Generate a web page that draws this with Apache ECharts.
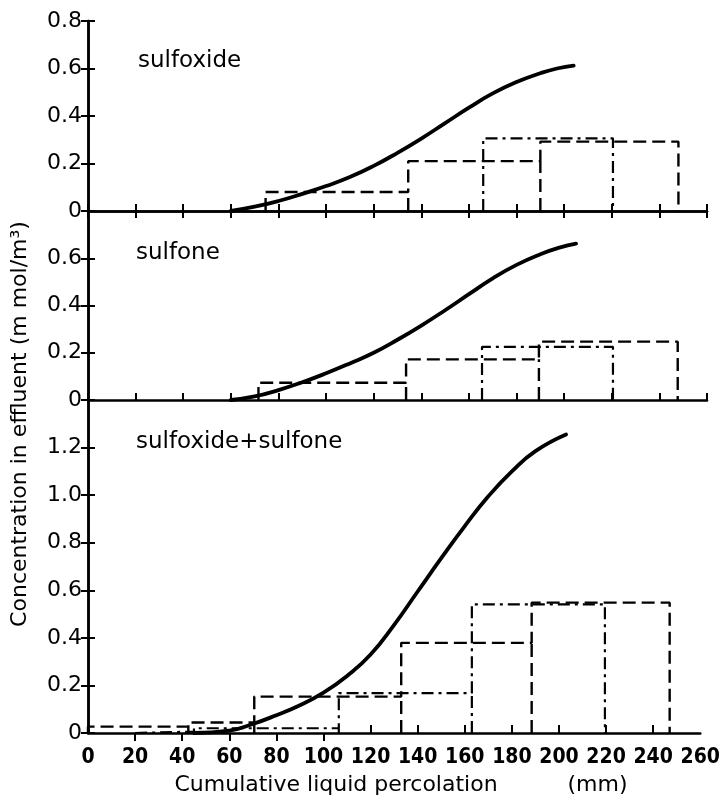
<!DOCTYPE html>
<html>
<head>
<meta charset="utf-8">
<script src="https://cdn.jsdelivr.net/npm/echarts@6/dist/echarts.min.js"></script>
<style>
html,body{margin:0;padding:0;background:#fff;}
#chart{width:723px;height:798px;}
</style>
</head>
<body>
<div id="chart"></div>
<script>
// ---------- data ----------
const xMin = 0, xMax = 260, xStep = 20;
const xTickValues = [0,20,40,60,80,100,120,140,160,180,200,220,240,260];
const panelNames = ['sulfoxide', 'sulfone', 'sulfoxide+sulfone'];
const panelYMax = [0.8, 0.8, 1.4];
const yStep = 0.2;

// smooth breakthrough curves (mm, mmol/m3)
const sulfoxideCurveX = [60, 70, 80, 90, 100, 110, 120, 130, 140, 150, 160, 170, 180, 190, 197, 204];
const sulfoxideCurveY = [0, 0.018, 0.042, 0.072, 0.105, 0.143, 0.19, 0.245, 0.305, 0.37, 0.435, 0.495, 0.543, 0.58, 0.6, 0.612];
const sulfoneCurveX = [60, 70, 80, 90, 100, 110, 120, 130, 140, 150, 160, 170, 180, 190, 198, 205];
const sulfoneCurveY = [0, 0.015, 0.042, 0.075, 0.113, 0.155, 0.2, 0.255, 0.315, 0.38, 0.448, 0.515, 0.572, 0.617, 0.645, 0.662];
const totalCurveX = [45, 60, 70, 80, 90, 100, 110, 120, 130, 140, 150, 160, 170, 180, 190, 203];
const totalCurveY = [0, 0.01, 0.038, 0.075, 0.117, 0.17, 0.24, 0.33, 0.455, 0.595, 0.735, 0.87, 0.995, 1.1, 1.185, 1.255];

// measured fractions (histogram steps): bin edges and levels
const sulfoxideDashEdges = [74.6, 134.5, 190, 248];
const sulfoxideDashVals  = [0.08, 0.21, 0.292];
const sulfoxideDotEdges  = [166, 220.5];
const sulfoxideDotVals   = [0.306];

const sulfoneDashEdges = [71.6, 133.6, 189.4, 247.7];
const sulfoneDashVals  = [0.073, 0.172, 0.247];
const sulfoneDotEdges  = [165.5, 220.5];
const sulfoneDotVals   = [0.225];

const totalDashEdges = [0, 42.6, 70.6, 133, 188.4, 247];
const totalDashVals  = [0.027, 0.044, 0.153, 0.379, 0.548];
const totalDotEdges  = [20, 45, 106.5, 163, 219.5];
const totalDotVals   = [0.006, 0.02, 0.168, 0.541];

// ---------- layout / style ----------
const AX = '#000';
const LEFT = 88, WIDTH = 619;
const grids = [
  {left: LEFT, top: 21, width: WIDTH, height: 190},
  {left: LEFT, top: 211, width: WIDTH, height: 189},
  {left: LEFT, top: 400, width: WIDTH, height: 333}
];
const DASH = [13, 6];
const DASHDOT = [12, 5, 3, 5];

function zip(xs, ys) { return xs.map((x, i) => [x, ys[i]]); }
function stair(edges, vals) {
  const pts = [[edges[0], 0]];
  for (let i = 0; i < vals.length; i++) {
    pts.push([edges[i], vals[i]]);
    pts.push([edges[i + 1], vals[i]]);
  }
  pts.push([edges[edges.length - 1], 0]);
  return pts;
}
function innerVerticals(edges, vals) {
  const segs = [];
  for (let i = 1; i < vals.length; i++) {
    segs.push([[edges[i], 0], [edges[i], Math.min(vals[i - 1], vals[i])]]);
  }
  return segs;
}
function fmtY(v) { return v === 0 ? '0' : v.toFixed(1); }

const xAxes = [], yAxes = [], series = [];
const tickStyle = {show: true, inside: true, length: 7, lineStyle: {color: AX, width: 2}};
const lineStyleAx = {show: true, lineStyle: {color: AX, width: 2.5}};

grids.forEach((g, gi) => {
  xAxes.push({
    type: 'value', gridIndex: gi, min: xMin, max: xMax, interval: xStep, position: 'bottom',
    axisLine: lineStyleAx, splitLine: {show: false},
    axisTick: gi === 2 ? {show: true, inside: false, length: 8, lineStyle: {color: AX, width: 2},
                          customValues: [20, 40, 60, 80, 100]} : tickStyle,
    axisLabel: gi === 2 ? {
      show: true, margin: 14, color: '#000', fontSize: 21, fontWeight: 'bold',
      fontFamily: '"Liberation Sans Narrow","DejaVu Sans Condensed",sans-serif',
      customValues: xTickValues, formatter: v => String(v)
    } : {show: false}
  });
  xAxes.push({
    type: 'value', gridIndex: gi, min: xMin, max: xMax, interval: xStep, position: 'top',
    axisLine: gi === 0 ? lineStyleAx : {show: false}, splitLine: {show: false},
    axisTick: gi === 0 ? tickStyle : {show: false}, axisLabel: {show: false}
  });
  yAxes.push({
    type: 'value', gridIndex: gi, min: 0, max: panelYMax[gi], interval: yStep, position: 'left',
    axisLine: lineStyleAx, splitLine: {show: false}, axisTick: tickStyle,
    axisLabel: {
      show: true, margin: 6, color: '#000', fontSize: 22,
      fontFamily: '"DejaVu Sans",sans-serif', formatter: fmtY,
      showMaxLabel: gi === 0, showMinLabel: true
    }
  });
  yAxes.push({
    type: 'value', gridIndex: gi, min: 0, max: panelYMax[gi], interval: yStep, position: 'right',
    axisLine: lineStyleAx, splitLine: {show: false}, axisTick: tickStyle, axisLabel: {show: false}
  });
});
xAxes.push({
  type: 'value', gridIndex: 2, min: xMin, max: xMax, interval: xStep, position: 'bottom',
  axisLine: {show: false}, splitLine: {show: false}, axisLabel: {show: false},
  axisTick: {show: true, inside: true, length: 8, lineStyle: {color: AX, width: 2},
             customValues: [120, 140, 160, 180, 200, 220, 240]}
});

const panels = [
  {cx: sulfoxideCurveX, cy: sulfoxideCurveY, de: sulfoxideDashEdges, dv: sulfoxideDashVals, te: sulfoxideDotEdges, tv: sulfoxideDotVals},
  {cx: sulfoneCurveX, cy: sulfoneCurveY, de: sulfoneDashEdges, dv: sulfoneDashVals, te: sulfoneDotEdges, tv: sulfoneDotVals},
  {cx: totalCurveX, cy: totalCurveY, de: totalDashEdges, dv: totalDashVals, te: totalDotEdges, tv: totalDotVals}
];
panels.forEach((p, gi) => {
  const xi = gi * 2, yi = gi * 2;
  const base = {type: 'line', xAxisIndex: xi, yAxisIndex: yi, symbol: 'none', silent: true, animation: false};
  series.push(Object.assign({}, base, {
    data: zip(p.cx, p.cy), smooth: 0.5,
    lineStyle: {color: '#000', width: 3.8, cap: 'round', join: 'round'}, z: 5
  }));
  series.push(Object.assign({}, base, {
    data: stair(p.de, p.dv), lineStyle: {color: '#000', width: 2.4, type: DASH}, z: 3
  }));
  innerVerticals(p.de, p.dv).forEach(seg => series.push(Object.assign({}, base, {
    data: seg, lineStyle: {color: '#000', width: 2.4, type: DASH}, z: 3
  })));
  series.push(Object.assign({}, base, {
    data: stair(p.te, p.tv), lineStyle: {color: '#000', width: 2.2, type: DASHDOT}, z: 3
  }));
  innerVerticals(p.te, p.tv).forEach(seg => series.push(Object.assign({}, base, {
    data: seg, lineStyle: {color: '#000', width: 2.2, type: DASHDOT}, z: 3
  })));
});

const TXT = '"DejaVu Sans",sans-serif';
const graphic = [
  {type: 'text', left: 138, top: 50, style: {text: panelNames[0], font: '23px ' + TXT, fill: '#000'}},
  {type: 'text', left: 136, top: 242, style: {text: panelNames[1], font: '23px ' + TXT, fill: '#000'}},
  {type: 'text', left: 136, top: 431, style: {text: panelNames[2], font: '23px ' + TXT, fill: '#000'}},
  {type: 'text', x: 20, y: 424, rotation: Math.PI / 2,
   style: {text: 'Concentration in effluent (m mol/m³)', font: '22px ' + TXT, fill: '#000', align: 'center', verticalAlign: 'middle'}},
  {type: 'text', x: 401, y: 785,
   style: {text: 'Cumulative liquid percolation          (mm)', font: '22px ' + TXT, fill: '#000', align: 'center', verticalAlign: 'middle'}}
];

const chart = echarts.init(document.getElementById('chart'), null, {renderer: 'canvas'});
chart.setOption({
  animation: false,
  backgroundColor: '#fff',
  grid: grids,
  xAxis: xAxes,
  yAxis: yAxes,
  series: series,
  graphic: graphic
});
</script>
</body>
</html>
